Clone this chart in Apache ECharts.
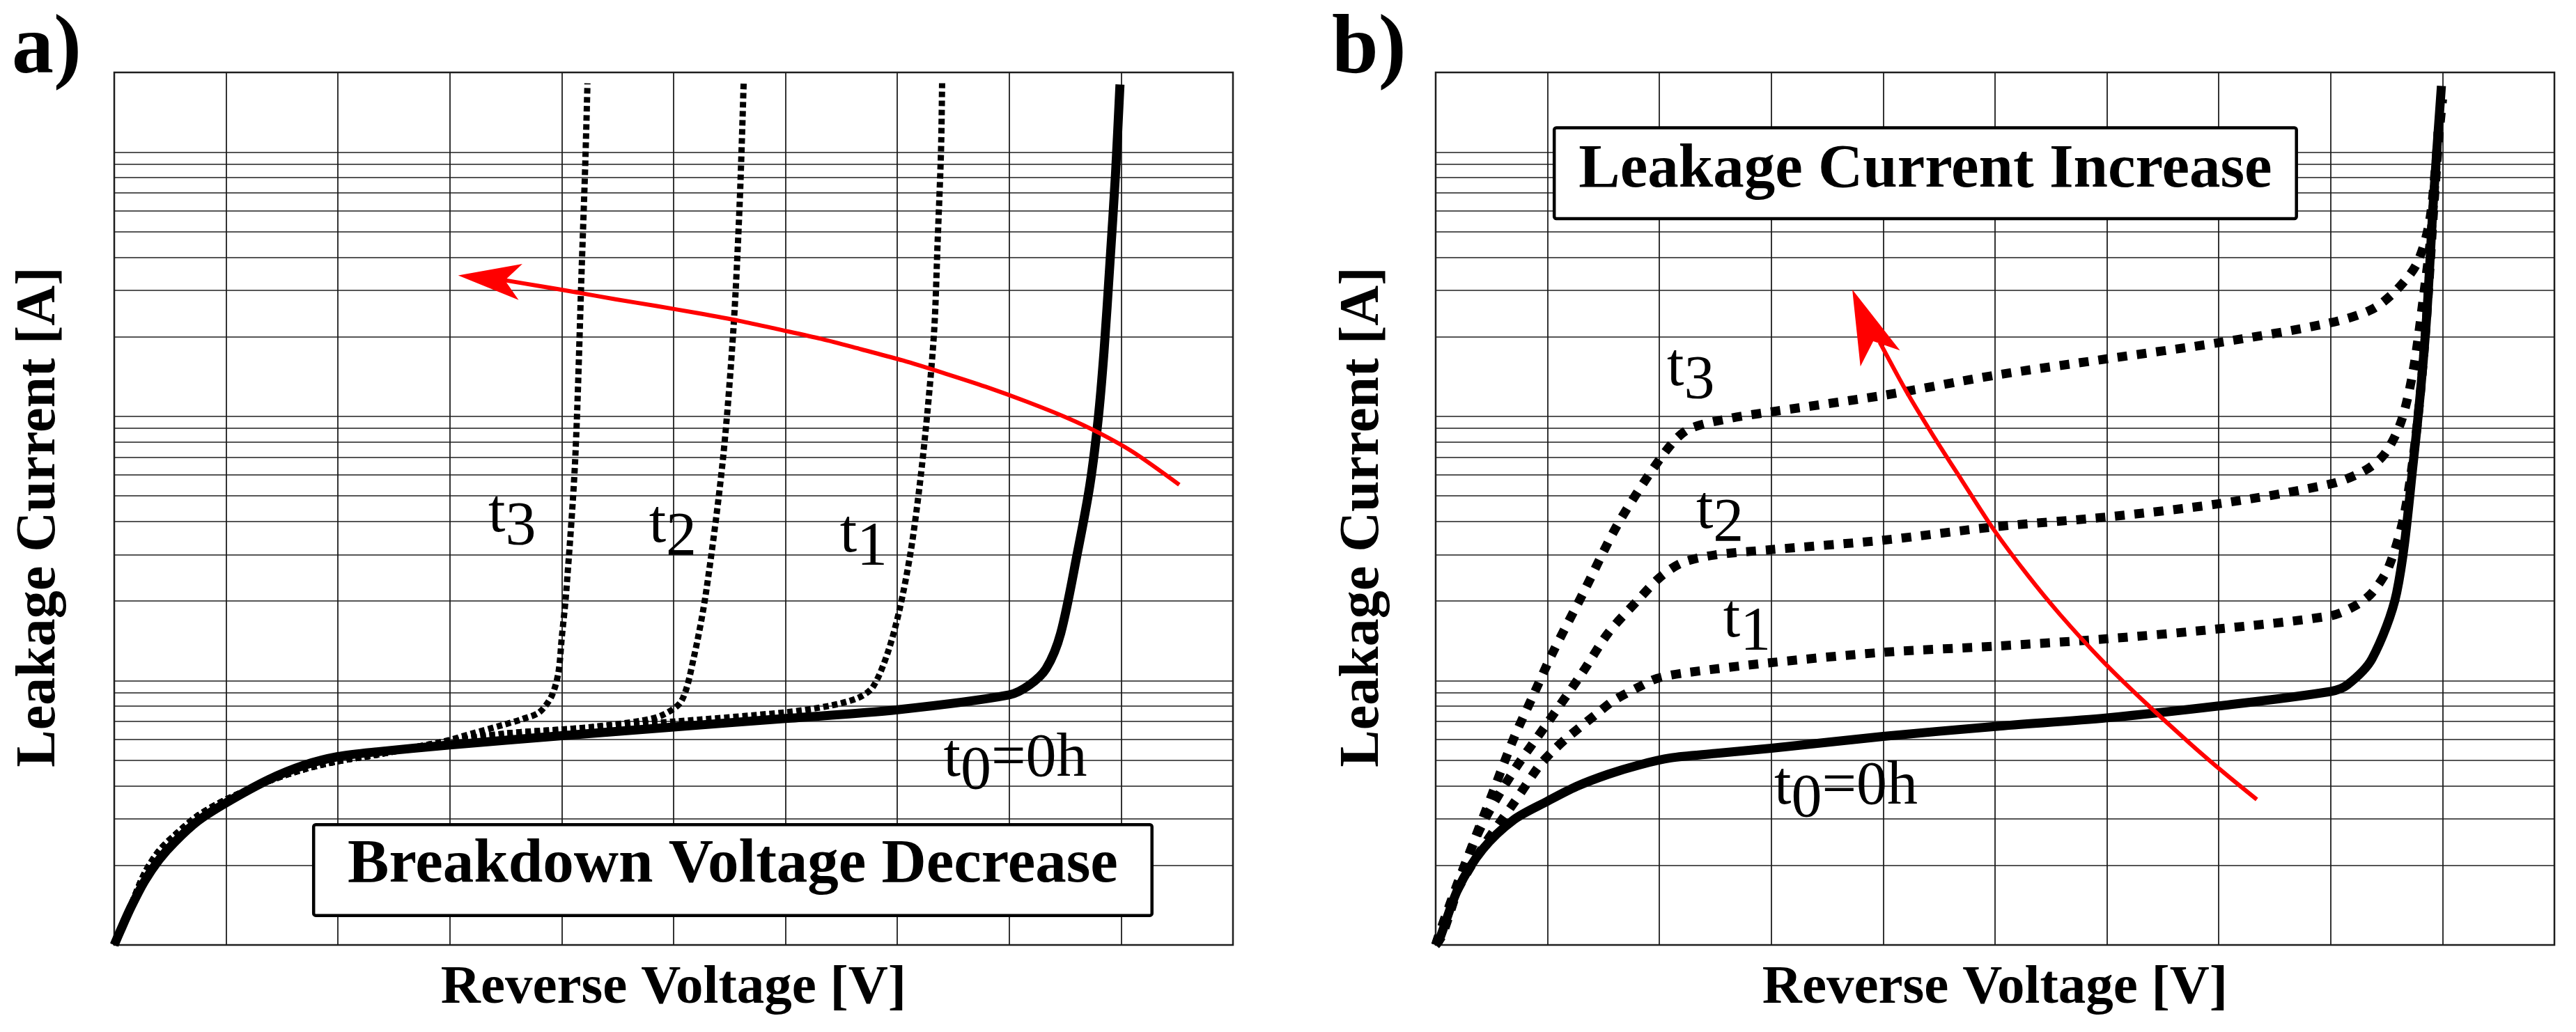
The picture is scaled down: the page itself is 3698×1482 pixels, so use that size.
<!DOCTYPE html>
<html>
<head>
<meta charset="utf-8">
<script src="https://cdn.jsdelivr.net/npm/echarts@6.0.0/dist/echarts.min.js"></script>
<style>
html,body{margin:0;padding:0;background:#ffffff;}
#c{width:3698px;height:1482px;}
</style>
</head>
<body>
<div id="c"></div>
<script>
// ---------------- data ----------------
// x: reverse voltage in grid units (0..10), y: leakage current (log axis, arbitrary units 1..2000)
const voltageRange = [0, 10];
const currentRange = [1, 2000];
const currentGridLines = [2,3,4,5,6,7,8,9,10,20,30,40,50,60,70,80,90,100,200,300,400,500,600,700,800,900,1000];

// panel a) breakdown voltage decrease
const aT0 = [[0,1.0],[0.05,1.12],[0.15,1.39],[0.27,1.74],[0.40,2.10],[0.54,2.45],[0.75,2.95],[1.0,3.45],[1.38,4.22],[1.7,4.79],[2.0,5.16],[2.35,5.38],[3.0,5.71],[4.0,6.19],[5.0,6.68],[6.0,7.19],[7.0,7.76],[8.0,8.83],[8.18,9.62],[8.33,11.1],[8.46,15.1],[8.61,30.5],[8.72,54.6],[8.795,97.5],[8.847,175],[8.90,379],[8.95,824],[8.99,1800]];
const aT1 = [[0,1.0],[0.04,1.096],[0.15,1.413],[0.27,1.862],[0.40,2.27],[0.54,2.60],[0.75,3.09],[1.0,3.548],[1.38,4.169],[1.7,4.624],[2.0,4.955],[2.35,5.248],[2.9,5.821],[3.5,6.31],[4.0,6.53],[5.0,7.0],[6.0,7.59],[6.4,8.04],[6.65,8.61],[6.78,9.44],[6.91,12.6],[7.02,18.6],[7.12,30.9],[7.20,55.0],[7.27,105],[7.33,214],[7.36,457],[7.39,1000],[7.40,1820]];
const aT2 = [[0,1.0],[0.04,1.096],[0.15,1.413],[0.27,1.862],[0.40,2.27],[0.54,2.60],[0.75,3.09],[1.0,3.548],[1.38,4.169],[1.7,4.624],[2.0,4.955],[2.35,5.248],[2.9,5.821],[3.5,6.31],[4.0,6.53],[4.27,6.68],[4.71,7.05],[4.9,7.41],[5.07,8.37],[5.18,12.2],[5.29,21.6],[5.44,68.2],[5.535,215],[5.59,631],[5.626,1820]];
const aT3 = [[0,1.0],[0.04,1.096],[0.15,1.413],[0.27,1.862],[0.40,2.27],[0.54,2.60],[0.75,3.09],[1.0,3.548],[1.38,4.169],[1.7,4.624],[2.0,4.955],[2.35,5.248],[2.9,5.821],[3.2,6.31],[3.47,6.79],[3.65,7.16],[3.80,7.59],[3.91,8.75],[3.97,10.7],[4.0,14.5],[4.04,21.6],[4.12,68.2],[4.18,380],[4.21,891],[4.23,1820]];
const aTrend = [[9.52,55.1],[9.11,73.1],[8.80,86.7],[8.52,98.6],[8.16,113.5],[7.79,129.4],[7.42,145.5],[7.05,162.6],[6.68,179.1],[6.32,196.3],[5.95,212.8],[5.59,229.6],[5.22,245.5],[4.85,261.2],[4.48,277.3],[4.12,295.1],[3.80,311.2],[3.49,327.3]];

// panel b) leakage current increase
const bT0 = [[0,1.0],[0.03,1.04],[0.2,1.63],[0.42,2.30],[0.70,2.98],[1.0,3.50],[1.26,3.98],[1.54,4.42],[1.82,4.80],[2.1,5.10],[2.5,5.30],[3.0,5.55],[4.0,6.15],[5.0,6.71],[6.0,7.23],[7.0,8.02],[8.0,9.10],[8.15,9.64],[8.37,12.1],[8.59,21.5],[8.74,67.8],[8.85,213],[8.92,672],[8.99,1778]];
const bT1 = [[0,1.0],[0.145,1.47],[0.42,2.34],[0.70,3.45],[0.925,4.76],[1.04,5.38],[1.175,6.08],[1.43,7.43],[1.59,8.40],[1.82,9.48],[1.98,10.2],[2.23,10.7],[3.0,11.7],[4.0,12.8],[5.0,13.5],[6.0,14.4],[7.0,15.7],[8.0,17.6],[8.22,19.2],[8.37,21.5],[8.52,27.0],[8.66,42.9],[8.77,90.2],[8.85,213],[8.92,603],[8.97,1202]];
const bT2 = [[0,1.0],[0.2,1.73],[0.42,2.88],[0.70,4.57],[1.0,6.92],[1.31,10.7],[1.54,15.1],[1.8,20.0],[2.0,24.5],[2.2,27.9],[2.5,29.9],[3.0,31.3],[4.0,34.0],[5.0,38.2],[6.0,41.6],[7.0,46.7],[8.0,55.5],[8.30,62.2],[8.48,71.8],[8.63,95.5],[8.74,151],[8.83,284],[8.90,505],[8.96,1191]];
const bT3 = [[0,1.0],[0.06,1.09],[0.284,2.12],[0.507,3.74],[0.70,6.08],[0.87,8.75],[1.04,12.6],[1.32,21.5],[1.615,38.2],[1.91,60.4],[2.13,80.5],[2.28,90.2],[2.64,98.4],[3.0,104],[4.0,120],[5.0,143],[6.0,165],[7.0,190],[8.0,226],[8.37,254],[8.59,301],[8.77,378],[8.88,535],[8.94,895],[9.0,1585]];
const bTrend = [[7.34,3.55],[7.05,4.47],[6.75,5.75],[6.31,8.51],[5.95,12.0],[5.58,17.8],[5.29,25.1],[4.99,37.2],[4.70,57.5],[4.45,84.1],[4.22,121.6],[3.97,190.5]];

// annotations (anchors in data coordinates)
const aHeadTip = [3.074, 341.4];
const bHeadTip = [3.724, 302.0];
const aCurveLabels = [
  {x:3.344, y:36.3, main:'t', sub:'3', tail:''},
  {x:4.780, y:33.3, main:'t', sub:'2', tail:''},
  {x:6.486, y:30.6, main:'t', sub:'1', tail:''},
  {x:7.413, y:4.32, main:'t', sub:'0', tail:'=0h'}
];
const bCurveLabels = [
  {x:2.067, y:129.9, main:'t', sub:'3', tail:''},
  {x:2.328, y:37.6, main:'t', sub:'2', tail:''},
  {x:2.570, y:14.6, main:'t', sub:'1', tail:''},
  {x:3.026, y:3.39, main:'t', sub:'0', tail:'=0h'}
];
const aBox = {x:5.529, y:1.921, text:'Breakdown Voltage Decrease'};
const bBox = {x:4.377, y:830.8, text:'Leakage Current Increase'};
const panelTags = ['a)', 'b)'];
const xTitle = 'Reverse Voltage [V]';
const yTitle = 'Leakage Current [A]';

// ---------------- chart ----------------
const FONT = '"Liberation Serif", "Times New Roman", serif';
const INK = '#1e1e1e';
const chart = echarts.init(document.getElementById('c'), null, {renderer:'canvas', width:3698, height:1482});

function xAxisFor(i) {
  return {
    type:'value', gridIndex:i, min:voltageRange[0], max:voltageRange[1], interval:1,
    axisLine:{show:false}, axisTick:{show:false}, axisLabel:{show:false},
    splitLine:{show:true, lineStyle:{color:INK, width:1.8}},
    name:xTitle, nameLocation:'middle', nameGap:63,
    nameTextStyle:{fontFamily:FONT, fontSize:79, fontWeight:'bold', color:'#000', verticalAlign:'middle'}
  };
}
function yAxisFor(i, gap) {
  return {
    type:'log', logBase:10, gridIndex:i, min:currentRange[0], max:currentRange[1],
    axisLine:{show:false}, axisTick:{show:false}, axisLabel:{show:false},
    splitLine:{show:false}, minorSplitLine:{show:false},
    name:yTitle, nameLocation:'middle', nameGap:gap, nameRotate:90,
    nameTextStyle:{fontFamily:FONT, fontSize:80, fontWeight:'bold', color:'#000', verticalAlign:'middle', padding:[0,24,0,0]}
  };
}
function gridLineSeries(i) {
  return {
    type:'line', xAxisIndex:i, yAxisIndex:i, data:[], silent:true, z:1,
    markLine:{
      silent:true, z:1, symbol:['none','none'], label:{show:false}, animation:false,
      lineStyle:{color:INK, width:1.6, type:'solid'},
      emphasis:{disabled:true},
      data: currentGridLines.map(v => ({yAxis:v}))
    }
  };
}
function curve(data, i, width, dash, z) {
  return {
    type:'line', xAxisIndex:i, yAxisIndex:i, data:data, showSymbol:false, symbol:'none',
    smooth:0.3, silent:true, z:z, animation:false,
    lineStyle:{color:'#000', width:width, type:dash, cap:'butt', join:'round'}
  };
}
function trend(data, tip, size, rot, i) {
  return {
    type:'line', xAxisIndex:i, yAxisIndex:i, data:data, showSymbol:false, symbol:'none',
    smooth:0.3, silent:true, z:6, animation:false,
    lineStyle:{color:'#ff0000', width:6, cap:'butt', join:'round'},
    markPoint:{
      silent:true, z:7, symbol:'arrow', symbolSize:size, symbolRotate:rot,
      itemStyle:{color:'#ff0000'}, label:{show:false}, animation:false,
      data:[{coord:tip}]
    }
  };
}

const option = {
  animation:false,
  backgroundColor:'#ffffff',
  grid:[
    {left:164, top:104, width:1606, height:1253, show:true, borderColor:INK, borderWidth:2.5, backgroundColor:'transparent'},
    {left:2061, top:104, width:1606, height:1253, show:true, borderColor:INK, borderWidth:2.5, backgroundColor:'transparent'}
  ],
  xAxis:[xAxisFor(0), xAxisFor(1)],
  yAxis:[yAxisFor(0, 107), yAxisFor(1, 104)],
  series:[
    gridLineSeries(0),
    gridLineSeries(1),
    // panel a
    curve(aT0, 0, 13, 'solid', 3),
    curve(aT1, 0, 9, [8,5], 4),
    curve(aT2, 0, 9, [8,5], 4),
    curve(aT3, 0, 9, [8,5], 4),
    trend(aTrend, aHeadTip, [39,90], 84, 0),
    // panel b
    curve(bT1, 1, 13, [14,14], 3),
    curve(bT2, 1, 13, [14,14], 3),
    curve(bT3, 1, 13, [14,14], 3),
    curve(bT0, 1, 13, 'solid', 4),
    trend(bTrend, bHeadTip, [46,107], 22, 1)
  ]
};
chart.setOption(option);

// ---------------- annotations placed through the axes ----------------
const LABEL_FONT = '88px ' + FONT;
const BOX_FONT = 'bold 89px ' + FONT;
const TAG_FONT = 'bold 120px ' + FONT;
const measureCtx = document.createElement('canvas').getContext('2d');
function textWidth(t, font) { measureCtx.font = font; return measureCtx.measureText(t).width; }
const BASE_TO_MID = 0.28 * 88;
const SUB_DROP = 18;

function textEl(text, x, y, font, align) {
  return {type:'text', x:x, y:y, z:100, silent:true,
    style:{text:text, font:font, fill:'#000', align:align || 'left', verticalAlign:'middle',
           textAlign:align || 'left', textVerticalAlign:'middle'}};
}
const elements = [];
elements.push({type:'text', left:17, top:13, z:100, silent:true, style:{text:panelTags[0], font:TAG_FONT, fill:'#000'}});
elements.push({type:'text', left:1912, top:13, z:100, silent:true, style:{text:panelTags[1], font:TAG_FONT, fill:'#000'}});

function addCurveLabels(list, gi) {
  list.forEach(l => {
    const p = chart.convertToPixel({gridIndex:gi}, [l.x, l.y]);
    let x = p[0];
    const y = p[1] - BASE_TO_MID;
    elements.push(textEl(l.main, x, y, LABEL_FONT));
    x += textWidth(l.main, LABEL_FONT);
    elements.push(textEl(l.sub, x, y + SUB_DROP, LABEL_FONT));
    if (l.tail) {
      x += textWidth(l.sub, LABEL_FONT);
      elements.push(textEl(l.tail, x, y, LABEL_FONT));
    }
  });
}
function addBox(box, gi, w, h, textLift) {
  const c = chart.convertToPixel({gridIndex:gi}, [box.x, box.y]);
  elements.push({type:'rect', z:90, silent:true,
    shape:{x:c[0] - w / 2, y:c[1] - h / 2, width:w, height:h, r:3},
    style:{fill:'#ffffff', stroke:'#000', lineWidth:4.5}});
  elements.push(textEl(box.text, c[0], c[1] - textLift, BOX_FONT, 'center'));
}
addCurveLabels(aCurveLabels, 0);
addCurveLabels(bCurveLabels, 1);
addBox(aBox, 0, 1203.5, 130.5, 6);
addBox(bBox, 1, 1065.5, 130.5, 3.5);

chart.setOption({graphic: elements});
</script>
</body>
</html>
